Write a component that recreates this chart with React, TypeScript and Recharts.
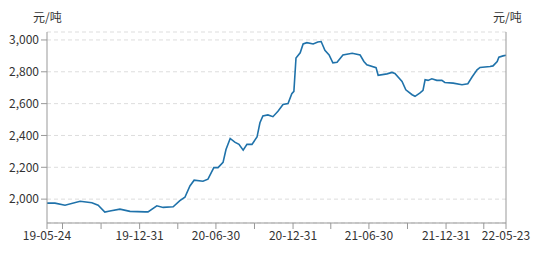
import React from 'react';
import { LineChart, Line, XAxis, YAxis, CartesianGrid } from 'recharts';

// price series
const dates = [
  '2019-05-24', '2019-06-12', '2019-07-06', '2019-08-11', '2019-09-08', '2019-09-23',
  '2019-10-09', '2019-10-21', '2019-11-14', '2019-12-08', '2020-01-13', '2020-01-20',
  '2020-02-10', '2020-02-25', '2020-03-20', '2020-04-05', '2020-04-17', '2020-04-29',
  '2020-05-09', '2020-05-30', '2020-06-11', '2020-06-25', '2020-07-05', '2020-07-17',
  '2020-07-24', '2020-08-03', '2020-08-14', '2020-08-24', '2020-09-03', '2020-09-12',
  '2020-09-24', '2020-10-06', '2020-10-13', '2020-10-20', '2020-11-01', '2020-11-13',
  '2020-11-25', '2020-12-07', '2020-12-19', '2020-12-28', '2021-01-02', '2021-01-07',
  '2021-01-17', '2021-01-24', '2021-02-02', '2021-02-17', '2021-02-28', '2021-03-08',
  '2021-03-17', '2021-03-27', '2021-04-05', '2021-04-15', '2021-04-29', '2021-05-21',
  '2021-06-09', '2021-06-18', '2021-06-25', '2021-07-17', '2021-07-22', '2021-08-12',
  '2021-08-24', '2021-08-31', '2021-09-17', '2021-09-26', '2021-10-11', '2021-10-18',
  '2021-10-30', '2021-11-06', '2021-11-11', '2021-11-18', '2021-11-27', '2021-12-09',
  '2021-12-21', '2021-12-28', '2022-01-17', '2022-02-07', '2022-02-21', '2022-03-03',
  '2022-03-15', '2022-03-22', '2022-04-15', '2022-04-22', '2022-05-02', '2022-05-06',
  '2022-05-16', '2022-05-23',
];

const prices = [
  1975, 1975, 1962, 1987, 1977, 1962,
  1919, 1925, 1937, 1923, 1920, 1920,
  1958, 1948, 1952, 1990, 2012, 2083,
  2119, 2112, 2125, 2198, 2198, 2231,
  2312, 2381, 2358, 2344, 2308, 2344,
  2344, 2390, 2480, 2522, 2529, 2518,
  2552, 2594, 2600, 2662, 2677, 2887,
  2919, 2975, 2983, 2975, 2987, 2990,
  2935, 2906, 2856, 2860, 2906, 2916,
  2905, 2865, 2844, 2826, 2778, 2787,
  2796, 2790, 2740, 2687, 2656, 2646,
  2667, 2683, 2750, 2746, 2756, 2746,
  2746, 2733, 2729, 2719, 2725, 2767,
  2812, 2827, 2833, 2837, 2865, 2892,
  2900, 2904,
];

const xTicks = [
  '2019-05-24', '2019-06-30', '2019-09-30', '2019-12-31', '2020-03-31', '2020-06-30',
  '2020-09-30', '2020-12-31', '2021-03-31', '2021-06-30', '2021-09-30', '2021-12-31',
  '2022-03-31', '2022-05-23',
];
const xLabels = ['2019-05-24', '2019-12-31', '2020-06-30', '2020-12-31', '2021-06-30', '2021-12-31', '2022-05-23'];
const yTicks = [2000, 2200, 2400, 2600, 2800, 3000];

const toTime = (d: string) => Date.parse(d + 'T00:00:00Z');

const data = dates.map((d, i) => ({ t: toTime(d), price: prices[i] }));
const labelSet = new Set(xLabels.map(toTime));

const fmtDate = (t: number) => {
  if (!labelSet.has(t)) return '';
  const d = new Date(t);
  const yy = String(d.getUTCFullYear()).slice(2);
  const mm = String(d.getUTCMonth() + 1).padStart(2, '0');
  const dd = String(d.getUTCDate()).padStart(2, '0');
  return `${yy}-${mm}-${dd}`;
};
const fmtNum = (v: number) => v.toLocaleString('en-US');

const FONT = '"Noto Sans CJK SC", "Noto Sans", sans-serif';
const tickStyle = { fontSize: 12, fill: '#333', fontFamily: FONT };
const unitStyle: React.CSSProperties = {
  position: 'absolute', top: 2, fontSize: 12, color: '#333', fontFamily: FONT, lineHeight: '14px',
};

export default function App() {
  return (
    <div style={{ position: 'relative', width: 542, height: 247 }}>
      <span style={{ ...unitStyle, left: 25 }}>元/吨</span>
      <span style={{ ...unitStyle, left: 485 }}>元/吨</span>
      <LineChart width={542} height={247} data={data} margin={{ top: 24, right: 5, bottom: 2, left: 5 }}>
        <CartesianGrid yAxisId="left" vertical={false} stroke="#ddd" strokeDasharray="4 3" />
        <XAxis
          dataKey="t"
          type="number"
          domain={[toTime(dates[0]), toTime(dates[dates.length - 1])]}
          ticks={xTicks.map(toTime)}
          interval={0}
          tickFormatter={fmtDate}
          tick={tickStyle}
          tickSize={6}
          height={30}
          stroke="#999"
        />
        <YAxis
          yAxisId="left"
          domain={[1850, 3050]}
          ticks={yTicks}
          tickFormatter={fmtNum}
          tick={tickStyle}
          tickSize={6}
          tickMargin={2}
          width={34}
          stroke="#999"
        />
        <YAxis
          yAxisId="right"
          orientation="right"
          domain={[1850, 3050]}
          ticks={yTicks}
          tickFormatter={fmtNum}
          tick={tickStyle}
          tickSize={6}
          tickMargin={2}
          width={39}
          stroke="#999"
        />
        <Line
          yAxisId="left"
          dataKey="price"
          type="linear"
          stroke="#1f72aa"
          strokeWidth={1.6}
          dot={false}
          isAnimationActive={false}
        />
      </LineChart>
    </div>
  );
}
